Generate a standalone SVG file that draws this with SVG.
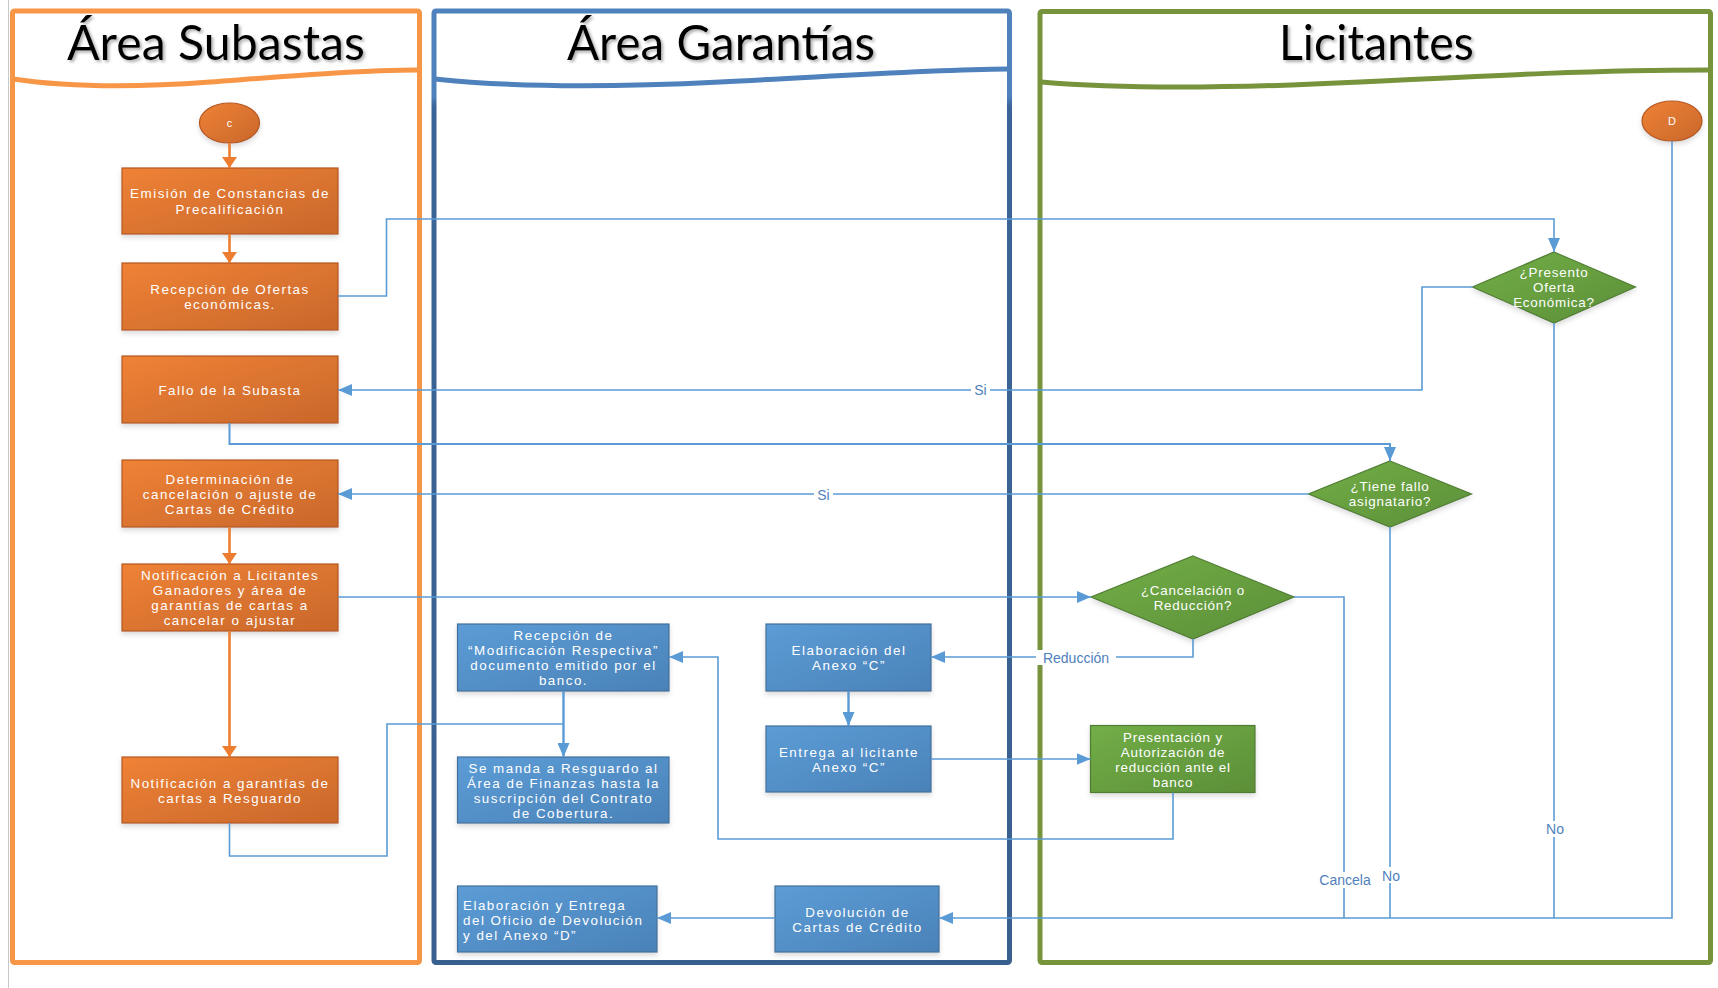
<svg xmlns="http://www.w3.org/2000/svg" width="1718" height="988" viewBox="0 0 1718 988">
<defs>
<linearGradient id="gO" x1="0" y1="0" x2="1" y2="1"><stop offset="0" stop-color="#EF8236"/><stop offset="1" stop-color="#C9672B"/></linearGradient>
<linearGradient id="gB" x1="0" y1="0" x2="1" y2="1"><stop offset="0" stop-color="#5C9CD6"/><stop offset="1" stop-color="#4A82B8"/></linearGradient>
<linearGradient id="gG" x1="0" y1="0" x2="1" y2="1"><stop offset="0" stop-color="#72AE47"/><stop offset="1" stop-color="#5C8F38"/></linearGradient>
<linearGradient id="gLaneB" x1="0" y1="0" x2="0" y2="1"><stop offset="0" stop-color="#4F81BD"/><stop offset="0.09" stop-color="#4F81BD"/><stop offset="0.1" stop-color="#3B6598"/><stop offset="1" stop-color="#395F8F"/></linearGradient>
<filter id="ts" x="-10%" y="-20%" width="130%" height="150%"><feDropShadow dx="2" dy="2" stdDeviation="1.5" flood-color="#777" flood-opacity="0.6"/></filter>
<filter id="ns" x="-10%" y="-10%" width="125%" height="135%"><feDropShadow dx="0" dy="3" stdDeviation="2.5" flood-color="#999" flood-opacity="0.35"/></filter>
<marker id="aB" markerUnits="userSpaceOnUse" markerWidth="14" markerHeight="12" refX="14" refY="6" orient="auto"><path d="M0,0 L14,6 L0,12 z" fill="#5B9BD5"/></marker>
<marker id="aO" markerUnits="userSpaceOnUse" markerWidth="11" markerHeight="15" refX="11" refY="7.5" orient="auto"><path d="M0,0 L11,7.5 L0,15 z" fill="#ED7D31"/></marker>
<style>
.lane{fill:#fff;stroke-width:5;}
.title{font-family:Lato,"Liberation Sans",sans-serif;font-size:48px;fill:#000;text-anchor:middle;}
.t{font-family:"Liberation Sans",Arial,sans-serif;font-size:13.4px;fill:#fff;text-anchor:middle;letter-spacing:1.5px;}
.d{letter-spacing:0.8px;}
.tl{text-anchor:start;}
.on{fill:url(#gO);stroke:#B5571D;stroke-width:1.2;}
.bn{fill:url(#gB);stroke:#41719C;stroke-width:1.2;}
.gn{fill:url(#gG);stroke:#507E32;stroke-width:1.2;}
.cb{fill:none;stroke:#5B9BD5;stroke-width:1.6;}
.co{fill:none;stroke:#ED7D31;stroke-width:2.6;}
.lbl{font-family:"Liberation Sans",Arial,sans-serif;font-size:14px;fill:#4F81BD;text-anchor:middle;}
</style>
</defs>
<rect width="1718" height="988" fill="#fff"/>
<line x1="8.5" y1="0" x2="8.5" y2="988" stroke="#c8c8c8" stroke-width="1"/>

<g id="lane-subastas">
<rect class="lane" x="12.5" y="11" width="407" height="951.5" rx="2" stroke="#F79646"/>
<path d="M13,79 C60,86 130,88 210,82 S360,70 418,70" fill="none" stroke="#F79646" stroke-width="5"/>
<text class="title" x="216" y="60" textLength="298" lengthAdjust="spacingAndGlyphs" filter="url(#ts)">Área Subastas</text>
</g>
<g id="lane-garantias">
<rect class="lane" x="434" y="11" width="575.5" height="951.5" rx="2" stroke="url(#gLaneB)"/>
<path d="M435,79 C500,86 600,88 720,82 S920,70 1008,69" fill="none" stroke="#4F81BD" stroke-width="5"/>
<text class="title" x="721" y="60" textLength="308" lengthAdjust="spacingAndGlyphs" filter="url(#ts)">Área Garantías</text>
</g>
<g id="lane-licitantes">
<rect class="lane" x="1040" y="11.5" width="670.5" height="951" rx="2" stroke="#77933C"/>
<path d="M1041,82 C1110,88 1220,89 1360,82 S1600,70 1709,70" fill="none" stroke="#77933C" stroke-width="5"/>
<text class="title" x="1376.5" y="60" textLength="195" lengthAdjust="spacingAndGlyphs" filter="url(#ts)">Licitantes</text>
</g>

<g id="n-c"><ellipse class="on" cx="229.5" cy="123" rx="30" ry="20" filter="url(#ns)"/><text class="t" x="229.5" y="127" style="font-size:11px;letter-spacing:0">c</text></g>
<g id="n-emision"><rect class="on" x="122" y="168" width="216" height="66" filter="url(#ns)"/><text class="t" x="230" y="197.5">Emisión de Constancias de</text><text class="t" x="230" y="213.5">Precalificación</text></g>
<g id="n-recepcion-ofertas"><rect class="on" x="122" y="263" width="216" height="67" filter="url(#ns)"/><text class="t" x="230" y="293.5">Recepción de Ofertas</text><text class="t" x="230" y="308.5">económicas.</text></g>
<g id="n-fallo"><rect class="on" x="122" y="356" width="216" height="67" filter="url(#ns)"/><text class="t" x="230" y="394.5">Fallo de la Subasta</text></g>
<g id="n-determinacion"><rect class="on" x="122" y="460" width="216" height="67" filter="url(#ns)"/><text class="t" x="230" y="483.5">Determinación de</text><text class="t" x="230" y="498.5">cancelación o ajuste  de</text><text class="t" x="230" y="513.5">Cartas de Crédito</text></g>
<g id="n-notif-licitantes"><rect class="on" x="122" y="564" width="216" height="67" filter="url(#ns)"/><text class="t" x="230" y="579.5">Notificación a Licitantes</text><text class="t" x="230" y="594.5">Ganadores y área de</text><text class="t" x="230" y="609.5">garantías de cartas a</text><text class="t" x="230" y="625">cancelar o ajustar</text></g>
<g id="n-notif-garantias"><rect class="on" x="122" y="757" width="216" height="66" filter="url(#ns)"/><text class="t" x="230" y="787.5">Notificación a garantías de</text><text class="t" x="230" y="802.5">cartas a Resguardo</text></g>

<g id="n-recepcion-modif"><rect class="bn" x="457.5" y="624" width="211.5" height="67" filter="url(#ns)"/><text class="t" x="563.5" y="639.5">Recepción de</text><text class="t" x="563.5" y="654.5">“Modificación Respectiva”</text><text class="t" x="563.5" y="669.5">documento emitido por el</text><text class="t" x="563.5" y="684.5">banco.</text></g>
<g id="n-resguardo"><rect class="bn" x="457.5" y="757" width="211.5" height="66" filter="url(#ns)"/><text class="t" x="563.5" y="772.5">Se manda a Resguardo al</text><text class="t" x="563.5" y="787.5">Área de Finanzas hasta la</text><text class="t" x="563.5" y="802.5">suscripción del Contrato</text><text class="t" x="563.5" y="817.5">de Cobertura.</text></g>
<g id="n-elab-anexo-c"><rect class="bn" x="766" y="624" width="165" height="67" filter="url(#ns)"/><text class="t" x="849" y="654.5">Elaboración del</text><text class="t" x="849" y="669.5">Anexo “C”</text></g>
<g id="n-entrega-anexo-c"><rect class="bn" x="766" y="726" width="165" height="66" filter="url(#ns)"/><text class="t" x="849" y="756.5">Entrega al licitante</text><text class="t" x="849" y="771.5">Anexo “C”</text></g>
<g id="n-oficio"><rect class="bn" x="457.5" y="886" width="199.5" height="66" filter="url(#ns)"/><text class="t tl" x="463" y="909.5">Elaboración y Entrega</text><text class="t tl" x="463" y="924.5">del Oficio de Devolución</text><text class="t tl" x="463" y="939.5">y del Anexo “D”</text></g>
<g id="n-devolucion"><rect class="bn" x="775" y="886" width="164" height="66" filter="url(#ns)"/><text class="t" x="857.5" y="916.5">Devolución de</text><text class="t" x="857.5" y="931.5">Cartas de Crédito</text></g>

<g id="n-d"><ellipse class="on" cx="1672" cy="121" rx="30" ry="20" filter="url(#ns)"/><text class="t" x="1672" y="125" style="font-size:11px;letter-spacing:0">D</text></g>
<g id="n-presento"><polygon class="gn" points="1554,252 1635.5,287 1554,323 1472.5,287" filter="url(#ns)"/><text class="t d" x="1554" y="276.5">¿Presento</text><text class="t d" x="1554" y="291.5">Oferta</text><text class="t d" x="1554" y="307">Económica?</text></g>
<g id="n-tiene-fallo"><polygon class="gn" points="1390,461 1471.5,494 1390,527 1308.5,494" filter="url(#ns)"/><text class="t d" x="1390" y="490.5">¿Tiene fallo</text><text class="t d" x="1390" y="505.5">asignatario?</text></g>
<g id="n-cancelacion"><polygon class="gn" points="1193,556 1294,597 1193,639 1091,597" filter="url(#ns)"/><text class="t d" x="1193" y="594.5">¿Cancelación o</text><text class="t d" x="1193" y="609.5">Reducción?</text></g>
<g id="n-presentacion"><rect class="gn" x="1090.5" y="725.5" width="164.5" height="67" filter="url(#ns)"/><text class="t d" x="1173" y="741.5">Presentación y</text><text class="t d" x="1173" y="756.5">Autorización de</text><text class="t d" x="1173" y="771.5">reducción ante el</text><text class="t d" x="1173" y="786.5">banco</text></g>

<g id="connectors">
<path class="co" d="M229.5,143 V168" marker-end="url(#aO)"/>
<path class="co" d="M229.5,234 V263" marker-end="url(#aO)"/>
<path class="co" d="M229.5,527 V564" marker-end="url(#aO)"/>
<path class="co" d="M229.5,631 V757" marker-end="url(#aO)"/>
<path class="cb" d="M338,296 H386.5 V219 H1554 V252" marker-end="url(#aB)"/>
<path class="cb" d="M1472.5,287 H1422 V390 H338" marker-end="url(#aB)"/>
<path class="cb" d="M229.5,423 V444 H1390 V461" marker-end="url(#aB)" style="stroke-width:2"/>
<path class="cb" d="M1308.5,494 H338" marker-end="url(#aB)"/>
<path class="cb" d="M338,597 H1091" marker-end="url(#aB)"/>
<path class="cb" d="M1193,639 V657 H931" marker-end="url(#aB)"/>
<path class="cb" d="M848.5,691 V726" marker-end="url(#aB)" style="stroke-width:2.4"/>
<path class="cb" d="M931,759 H1090.5" marker-end="url(#aB)"/>
<path class="cb" d="M1173,792.5 V839 H718 V657 H669" marker-end="url(#aB)"/>
<path class="cb" d="M563.5,691 V757" marker-end="url(#aB)" style="stroke-width:2.4"/>
<path class="cb" d="M229.5,823 V856 H387 V724 H563.5"/>
<path class="cb" d="M1294,597 H1344 V918"/>
<path class="cb" d="M1390,527 V918"/>
<path class="cb" d="M1554,323 V918"/>
<path class="cb" d="M1672,141 V918 H939" marker-end="url(#aB)"/>
<path class="cb" d="M775,918 H657" marker-end="url(#aB)"/>
<rect x="971" y="382" width="19" height="15" fill="#fff"/><text class="lbl" x="980.5" y="395">Si</text>
<rect x="814" y="487" width="19" height="15" fill="#fff"/><text class="lbl" x="823.5" y="499.5">Si</text>
<rect x="1036" y="650" width="80" height="15" fill="#fff"/><text class="lbl" x="1076" y="663">Reducción</text>
<rect x="1314" y="872" width="62" height="16" fill="#fff"/><text class="lbl" x="1345" y="885">Cancela</text>
<rect x="1379" y="867" width="24" height="16" fill="#fff"/><text class="lbl" x="1391" y="881">No</text>
<rect x="1543" y="821" width="24" height="16" fill="#fff"/><text class="lbl" x="1555" y="834">No</text>
</g>
</svg>
